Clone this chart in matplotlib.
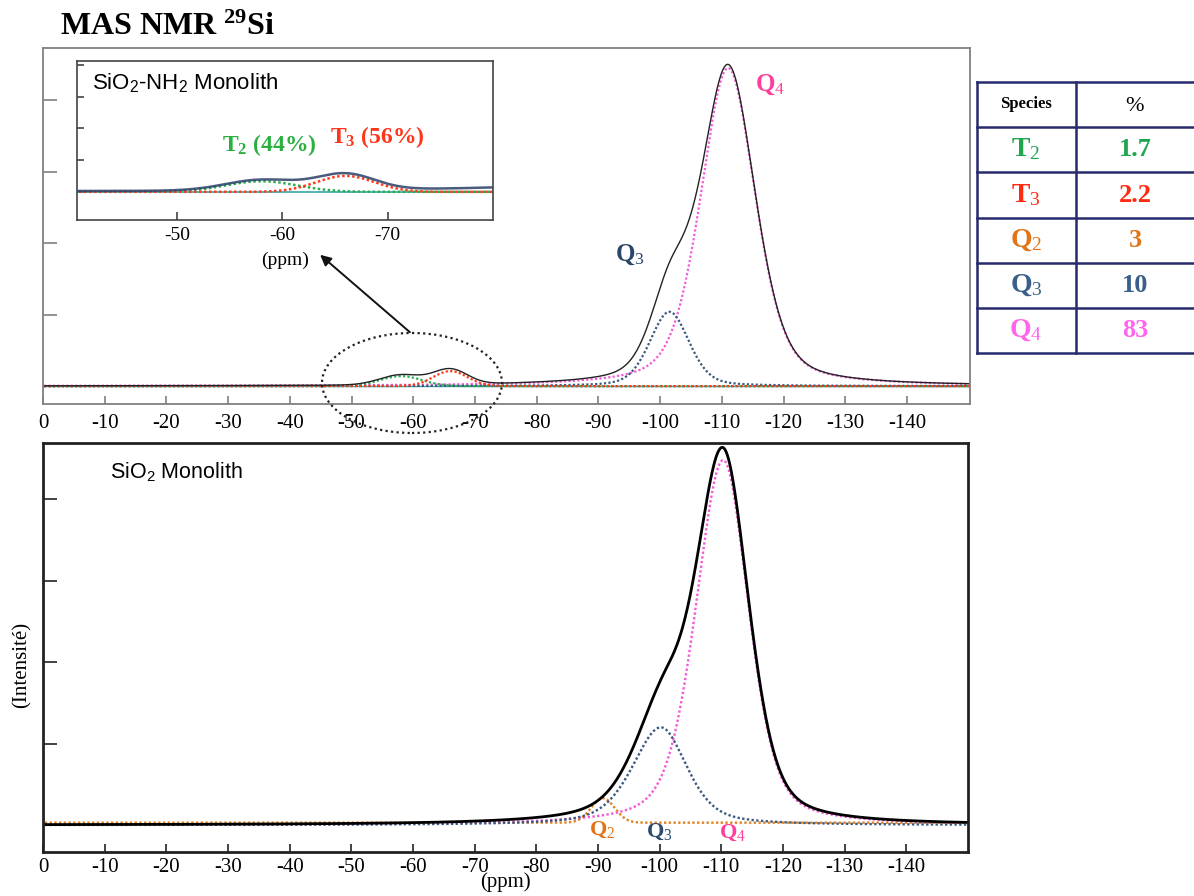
import numpy as np
import matplotlib.pyplot as plt
from matplotlib.patches import Ellipse, FancyArrowPatch

plt.rcParams['font.family'] = ['Liberation Serif', 'DejaVu Serif']
plt.rcParams['mathtext.fontset'] = 'custom'
plt.rcParams['mathtext.rm'] = 'Liberation Serif'
plt.rcParams['mathtext.bf'] = 'Liberation Serif:bold'
plt.rcParams['mathtext.it'] = 'Liberation Serif:italic'
plt.rcParams['mathtext.sf'] = 'Liberation Sans'

# chemical shift axis (ppm)
ppm = np.linspace(2, -152, 1541)

# fitted components of the SiO2-NH2 monolith (top): centre, height, fwhm, lorentz fraction
top_species = ['T2', 'T3', 'Q3', 'Q4']
top_center = [-58.0, -66.0, -101.5, -111.0]
top_height = [0.14, 0.21, 1.04, 4.45]
top_fwhm = [8.0, 6.5, 7.5, 10.5]
top_lorentz = [0.0, 0.0, 0.3, 0.4]

# fitted components of the SiO2 monolith (bottom)
bot_species = ['Q2', 'Q3', 'Q4']
bot_center = [-90.8, -100.2, -110.3]
bot_height = [0.30, 1.20, 4.48]
bot_fwhm_left = [4.5, 11.0, 10.5]
bot_fwhm_right = [4.5, 10.0, 9.8]
bot_lorentz = [0.0, 0.5, 0.4]
bot_offset = [0.03, 0.0, 0.0]

# quantification table
table_species = ['T2', 'T3', 'Q2', 'Q3', 'Q4']
table_percent = ['1.7', '2.2', '3', '10', '83']

colors = {'T2': '#2aae55', 'T3': '#ff3a1c', 'Q2': '#e0821f',
          'Q3': '#3b5a80', 'Q4': '#f45ad8'}
label_colors = {'T2': '#2bb040', 'T3': '#ff3418', 'Q2': '#e07418',
                'Q3': '#2a4668', 'Q4': '#ff3d9c'}
table_colors = {'T2': '#1fa64f', 'T3': '#ff2a10', 'Q2': '#e0761a',
                'Q3': '#3a5f8a', 'Q4': '#ff66ee'}

W, H = 1194, 896


def peak(x, c, h, wl, wr, eta):
    w = np.where(x > c, wl, wr)
    u = 2 * (x - c) / w
    return h * (eta / (1 + u ** 2) + (1 - eta) * np.exp(-np.log(2) * u ** 2))


def box(x0, y0, x1, y1):
    # pixel box (top-left origin) -> figure fraction rect
    return [x0 / W, 1 - y1 / H, (x1 - x0) / W, (y1 - y0) / H]


def ftext(px, py, s, **kw):
    fig.text(px / W, 1 - py / H, s, **kw)


def style_ax(ax, spine_color, lw):
    for s in ax.spines.values():
        s.set_color(spine_color)
        s.set_linewidth(lw)
    ax.tick_params(direction='in', colors=spine_color, labelcolor='black',
                   labelsize=15, length=6, width=1.2)
    ax.tick_params(axis='y', length=10, labelleft=False)


dot = (0, (1, 1))
fig = plt.figure(figsize=(W / 100, H / 100), dpi=100)

# ---------- top spectrum ----------
ax1 = fig.add_axes(box(43, 48, 970, 404))
top_curves = {}
for i, sp in enumerate(top_species):
    top_curves[sp] = peak(ppm, top_center[i], top_height[i], top_fwhm[i],
                          top_fwhm[i], top_lorentz[i])
top_sum = sum(top_curves.values())
ax1.axhline(0, color='#3aa6a6', lw=1.0)
for sp in ['Q4', 'Q3', 'T2', 'T3']:
    ax1.plot(ppm, top_curves[sp], color=colors[sp], ls=dot, lw=1.6)
ax1.plot(ppm, top_sum, color='#222222', lw=1.0)
ax1.set_xlim(0, -150.2)
ax1.set_ylim(-0.25, 4.73)
ax1.set_xticks(np.arange(0, -150, -10))
ax1.set_xticklabels([str(v) for v in range(0, -150, -10)])
ax1.set_yticks(range(0, 5))
style_ax(ax1, '#808080', 1.3)
ax1.tick_params(axis='x', pad=7)

ftext(630, 255, r'$\mathbf{Q}_\mathrm{3}$', fontsize=18,
      color=label_colors['Q3'], ha='center', va='center')
ftext(770, 85, r'$\mathbf{Q}_\mathrm{4}$', fontsize=18,
      color=label_colors['Q4'], ha='center', va='center')

# ---------- inset zoom on T region ----------
ax_in = fig.add_axes(box(77, 61, 493, 220))
ax_in.axhline(0, color='#3aa6a6', lw=1.2)
ax_in.plot(ppm, top_curves['T2'], color=colors['T2'], ls=dot, lw=1.8)
ax_in.plot(ppm, top_curves['T3'], color=colors['T3'], ls=dot, lw=1.8)
ax_in.plot(ppm, top_sum, color='#2a3f66', lw=1.8, alpha=0.85)
ax_in.set_xlim(-40.5, -80)
ax_in.set_ylim(-0.37, 1.72)
ax_in.set_xticks([-50, -60, -70])
ax_in.set_xticklabels(['-50', '-60', '-70'])
ax_in.set_yticks([k * 0.417 for k in range(5)])
style_ax(ax_in, '#444444', 1.2)
ax_in.tick_params(axis='y', length=5)
ax_in.tick_params(axis='x', pad=5, labelsize=14)
ftext(285, 260, '(ppm)', fontsize=14, ha='center', va='center')
ftext(92, 82, r'SiO$_\mathsf{2}$-NH$_\mathsf{2}$ Monolith',
      family='Liberation Sans', fontsize=16, ha='left', va='center')
ftext(222, 145, r'$\mathbf{T}_\mathbf{2}$ (44%)', fontsize=17,
      fontweight='bold', color=label_colors['T2'], ha='left', va='center')
ftext(330, 137, r'$\mathbf{T}_\mathbf{3}$ (56%)', fontsize=17,
      fontweight='bold', color=label_colors['T3'], ha='left', va='center')

# ellipse + arrow pointing to the inset
fig.add_artist(Ellipse((412 / W, 1 - 383 / H), 180 / W, 100 / H, fill=False,
                       ls=(0, (1, 1.5)), lw=1.6, ec='#222222',
                       transform=fig.transFigure))
fig.add_artist(FancyArrowPatch(
    (412 / W, 1 - 334 / H), (318 / W, 1 - 253 / H), transform=fig.transFigure,
    arrowstyle='-|>', mutation_scale=16, lw=1.4, color='#111111'))

# ---------- bottom spectrum ----------
ax2 = fig.add_axes(box(43, 443, 968, 852))
bot_curves = {}
for i, sp in enumerate(bot_species):
    bot_curves[sp] = bot_offset[i] + peak(ppm, bot_center[i], bot_height[i],
                                          bot_fwhm_left[i], bot_fwhm_right[i],
                                          bot_lorentz[i])
bot_sum = bot_curves['Q3'] + bot_curves['Q4']
ax2.plot(ppm, bot_curves['Q2'], color=colors['Q2'], ls=dot, lw=1.7)
ax2.plot(ppm, bot_curves['Q4'], color=colors['Q4'], ls=dot, lw=1.7)
ax2.plot(ppm, bot_curves['Q3'], color=colors['Q3'], ls=dot, lw=1.7)
ax2.plot(ppm, bot_sum, color='black', lw=2.0)
ax2.set_xlim(0, -150)
ax2.set_ylim(-0.33, 4.69)
ax2.set_xticks(np.arange(0, -150, -10))
ax2.set_xticklabels([str(v) for v in range(0, -150, -10)])
ax2.set_yticks(range(0, 5))
style_ax(ax2, '#222222', 2.0)
ax2.tick_params(axis='x', pad=4)
ax2.set_xlabel('(ppm)', fontsize=15, labelpad=-3)
ftext(22, 665, '(Intensité)', fontsize=15, rotation=90, ha='center', va='center')
ftext(110, 471, r'SiO$_\mathsf{2}$ Monolith',
      family='Liberation Sans', fontsize=15.5, ha='left', va='center')
for sp, (px, py) in zip(['Q2', 'Q3', 'Q4'], [(602, 830), (659, 832), (732, 833)]):
    ftext(px, py, r'$\mathbf{Q}_\mathrm{%s}$' % sp[1], fontsize=16,
          color=label_colors[sp] if sp != 'Q3' else '#2c4a6e',
          ha='center', va='center')

# ---------- title ----------
ftext(60, 27, r'MAS NMR $^{\mathbf{29}}$Si', fontsize=23,
      fontweight='bold', ha='left', va='center')

# ---------- table ----------
axt = fig.add_axes(box(977, 82, 1200, 353))
axt.set_xlim(977, 1200)
axt.set_ylim(353, 82)
axt.axis('off')
navy = '#272a6c'
row_edges = [82, 127, 172, 218, 263, 308, 353]
for y in row_edges:
    axt.plot([977, 1200], [y, y], color=navy, lw=1.8, clip_on=False)
axt.plot([977, 977], [82, 353], color=navy, lw=1.8, clip_on=False)
axt.plot([1076, 1076], [82, 353], color=navy, lw=1.8, clip_on=False)
axt.text(1026, 104, 'Species', fontsize=12, fontweight='bold', ha='center',
         va='center')
axt.text(1135, 106, '%', fontsize=16, ha='center', va='center')
for i, sp in enumerate(table_species):
    yc = (row_edges[i + 1] + row_edges[i + 2]) / 2
    axt.text(1026, yc, r'$\mathbf{%s}_\mathrm{%s}$' % (sp[0], sp[1]),
             fontsize=20, color=table_colors[sp], ha='center', va='center')
    axt.text(1135, yc, table_percent[i], fontsize=19, fontweight='bold',
             color=table_colors[sp], ha='center', va='center')

fig.savefig('out.png', dpi=100)
